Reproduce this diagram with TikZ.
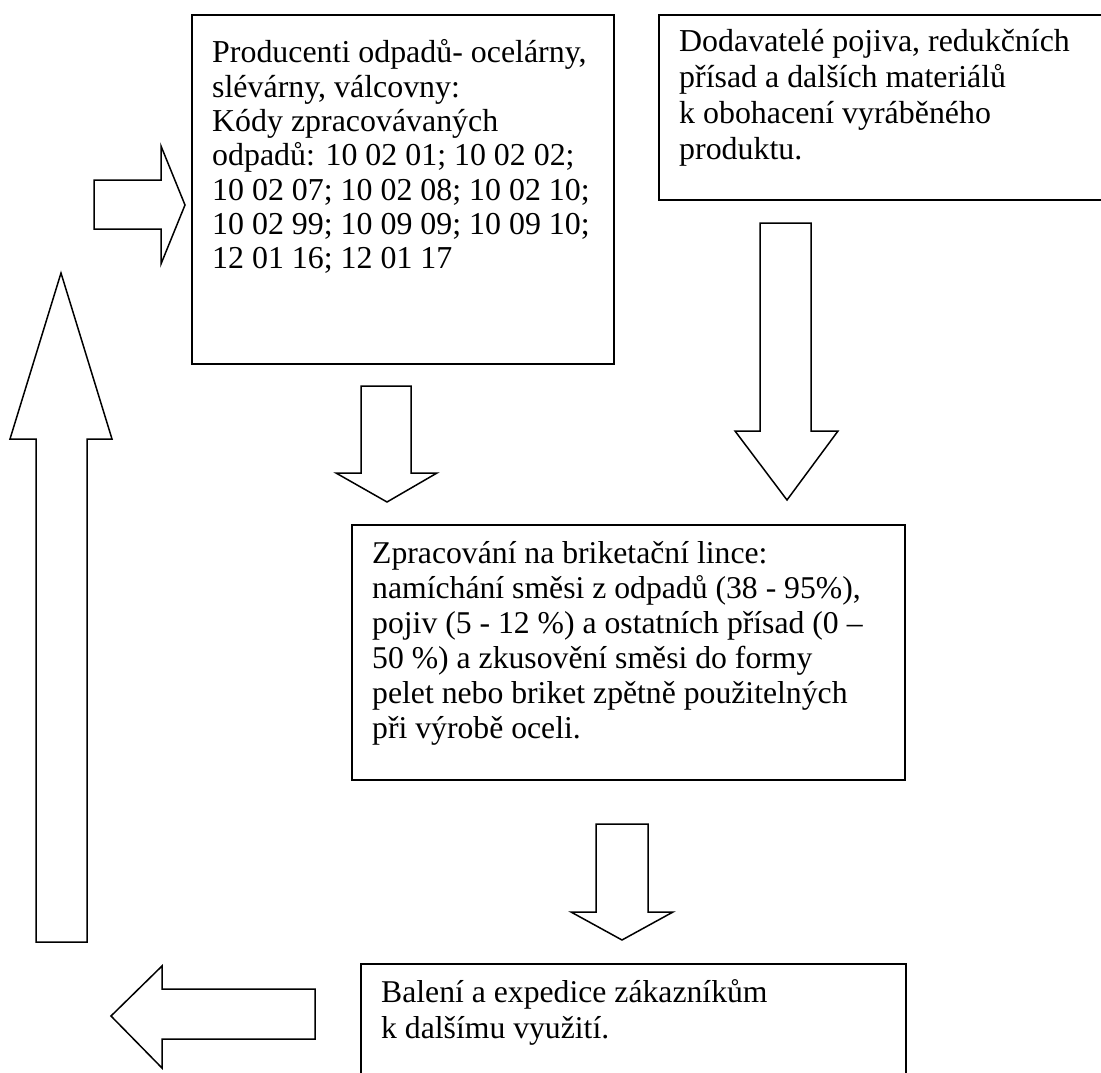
\documentclass[tikz,border=0pt]{standalone}
\usepackage{fontspec}
\setmainfont{Liberation Serif}
\begin{document}
\begin{tikzpicture}[x=1pt,y=-1pt,
  box/.style={draw, line width=1.8pt, inner sep=0pt, anchor=north west},
  blk/.style={draw, line width=1.5pt, line join=miter, fill=white},
  txt/.style={anchor=base west, inner sep=0pt}]
\useasboundingbox[fill=white] (0,0) rectangle (1101,1073);
\begin{scope}
\clip (0,0) rectangle (1101,1073);
% boxes
\node[box, minimum width=422pt, minimum height=349pt] (prod) at (191,14) {};
\node[box, minimum width=470pt, minimum height=185pt] (dod) at (658,14) {};
\node[box, minimum width=553pt, minimum height=255pt] (zpr) at (351,524) {};
\node[box, minimum width=545pt, minimum height=140pt] (bal) at (360,963) {};
% texts
\node[txt, font=\fontsize{31.9}{34.3}\selectfont] (prodt) at (212,63) {\begin{tabular}[t]{@{}l@{}}
Producenti odpadů- ocelárny,\\
slévárny, válcovny:\\
Kódy zpracovávaných\\
odpadů: 10 02 01; 10 02 02;\\
10 02 07; 10 02 08; 10 02 10;\\
10 02 99; 10 09 09; 10 09 10;\\
12 01 16; 12 01 17\end{tabular}};
\node[txt, font=\fontsize{31.9}{35.7}\selectfont] (dodt) at (679,52) {\begin{tabular}[t]{@{}l@{}}
Dodavatelé pojiva, redukčních\\
přísad a dalších materiálů\\
k obohacení vyráběného\\
produktu.\end{tabular}};
\node[txt, font=\fontsize{31.7}{35}\selectfont] (zprt) at (372,563) {\begin{tabular}[t]{@{}l@{}}
Zpracování na briketační lince:\\
namíchání směsi z odpadů (38 - 95\%),\\
pojiv (5 - 12 \%) a ostatních přísad (0 –\\
50 \%) a zkusovění směsi do formy\\
pelet nebo briket zpětně použitelných\\
při výrobě oceli.\end{tabular}};
\node[txt, font=\fontsize{31.7}{36}\selectfont] (balt) at (381,1002) {\begin{tabular}[t]{@{}l@{}}
Balení a expedice zákazníkům\\
k dalšímu využití.\end{tabular}};
% block arrows
% into producers (right)
\draw[blk] (94,180) -- (161,180) -- (161,146) -- (185,205) -- (161,264) -- (161,229) -- (94,229) -- cycle;
% up arrow (left side)
\draw[blk] (36,942) -- (36,439) -- (10,439) -- (61,273) -- (112,439) -- (87,439) -- (87,942) -- cycle;
% down from producers
\draw[blk] (361,386) -- (411,386) -- (411,473) -- (437,473) -- (387,502) -- (336,473) -- (361,473) -- cycle;
% down from suppliers
\draw[blk] (760,223) -- (811,223) -- (811,431) -- (838,431) -- (787,500) -- (735,431) -- (760,431) -- cycle;
% down to packaging
\draw[blk] (596,824) -- (648,824) -- (648,912) -- (673,912) -- (622,940) -- (571,912) -- (596,912) -- cycle;
% left arrow from packaging
\draw[blk] (315,989) -- (162,989) -- (162,966) -- (111,1016) -- (162,1068) -- (162,1039) -- (315,1039) -- cycle;
\end{scope}
\end{tikzpicture}
\end{document}
